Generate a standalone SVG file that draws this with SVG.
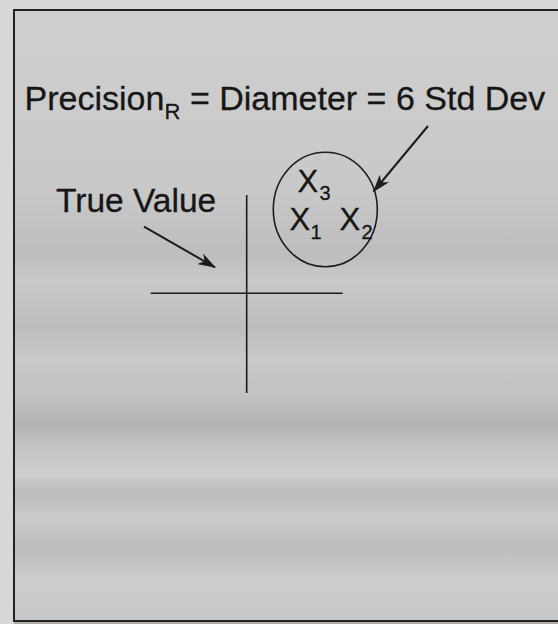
<svg xmlns="http://www.w3.org/2000/svg" width="558" height="624" viewBox="0 0 558 624">
  <style>
    .t { font-family: "Liberation Sans", Arial, sans-serif; fill: #161616; stroke: #161616; stroke-width: 0.3; }
    .ln { stroke: #1c1c1c; stroke-width: 1.6; fill: none; }
    .ar { stroke: #1c1c1c; stroke-width: 2; fill: none; }
  </style>
  <defs>
    <linearGradient id="bg" x1="0" y1="0" x2="0" y2="1">
      <stop offset="0" stop-color="#cfcfcf"/>
      <stop offset="0.2" stop-color="#cbcbcb"/>
      <stop offset="0.3" stop-color="#c8c8c8"/>
      <stop offset="0.4" stop-color="#bdbdbd"/>
      <stop offset="0.44" stop-color="#c9c9c9"/>
      <stop offset="0.52" stop-color="#bdbdbd"/>
      <stop offset="0.57" stop-color="#c9c9c9"/>
      <stop offset="0.63" stop-color="#c3c3c3"/>
      <stop offset="0.68" stop-color="#b3b3b3"/>
      <stop offset="0.72" stop-color="#c6c6c6"/>
      <stop offset="0.76" stop-color="#cecece"/>
      <stop offset="0.79" stop-color="#bcbcbc"/>
      <stop offset="0.83" stop-color="#cbcbcb"/>
      <stop offset="0.88" stop-color="#bcbcbc"/>
      <stop offset="0.93" stop-color="#cdcdcd"/>
      <stop offset="1" stop-color="#c8c8c8"/>
    </linearGradient>
    <marker id="ah" viewBox="0 0 18 12" refX="17" refY="6" markerWidth="18" markerHeight="12" markerUnits="userSpaceOnUse" orient="auto">
      <path d="M0,0 L18,6 L0,12 L5,6 Z" fill="#1c1c1c"/>
    </marker>
  </defs>
  <rect x="0" y="0" width="558" height="624" fill="#d8d8d8"/>
  <rect x="14" y="10" width="560" height="611" fill="url(#bg)" stroke="#222" stroke-width="2"/>
  <line x1="14" y1="623" x2="558" y2="623" stroke="#8a7a6a" stroke-width="1"/>

  <g id="title">
    <text class="t" x="24.5" y="110" font-size="34">Precision</text>
    <text class="t" x="164.5" y="119" font-size="22">R</text>
    <text class="t" x="180.5" y="110" font-size="34" xml:space="preserve"> = Diameter = 6 Std Dev</text>
  </g>

  <g id="true-value-label">
    <text class="t" x="56" y="212" font-size="33.5">True Value</text>
  </g>

  <g id="true-value-crosshair">
    <line class="ln" x1="246.7" y1="195" x2="246.7" y2="393"/>
    <line class="ln" x1="150.7" y1="293.3" x2="342.7" y2="293.3"/>
  </g>

  <g id="measurements">
    <ellipse class="ln" cx="325.3" cy="209.5" rx="52" ry="57.2"/>
    <text class="t" x="297.5" y="192" font-size="31">X</text>
    <text class="t" x="319.5" y="200" font-size="20">3</text>
    <text class="t" x="289.5" y="230" font-size="31">X</text>
    <text class="t" x="310.5" y="239" font-size="20">1</text>
    <text class="t" x="339.5" y="230" font-size="31">X</text>
    <text class="t" x="361.5" y="239" font-size="20">2</text>
  </g>

  <g id="connectors">
    <line class="ar" x1="428" y1="126" x2="373.5" y2="191.5" marker-end="url(#ah)"/>
    <line class="ar" x1="144" y1="226.7" x2="215" y2="267.3" marker-end="url(#ah)"/>
  </g>
</svg>
